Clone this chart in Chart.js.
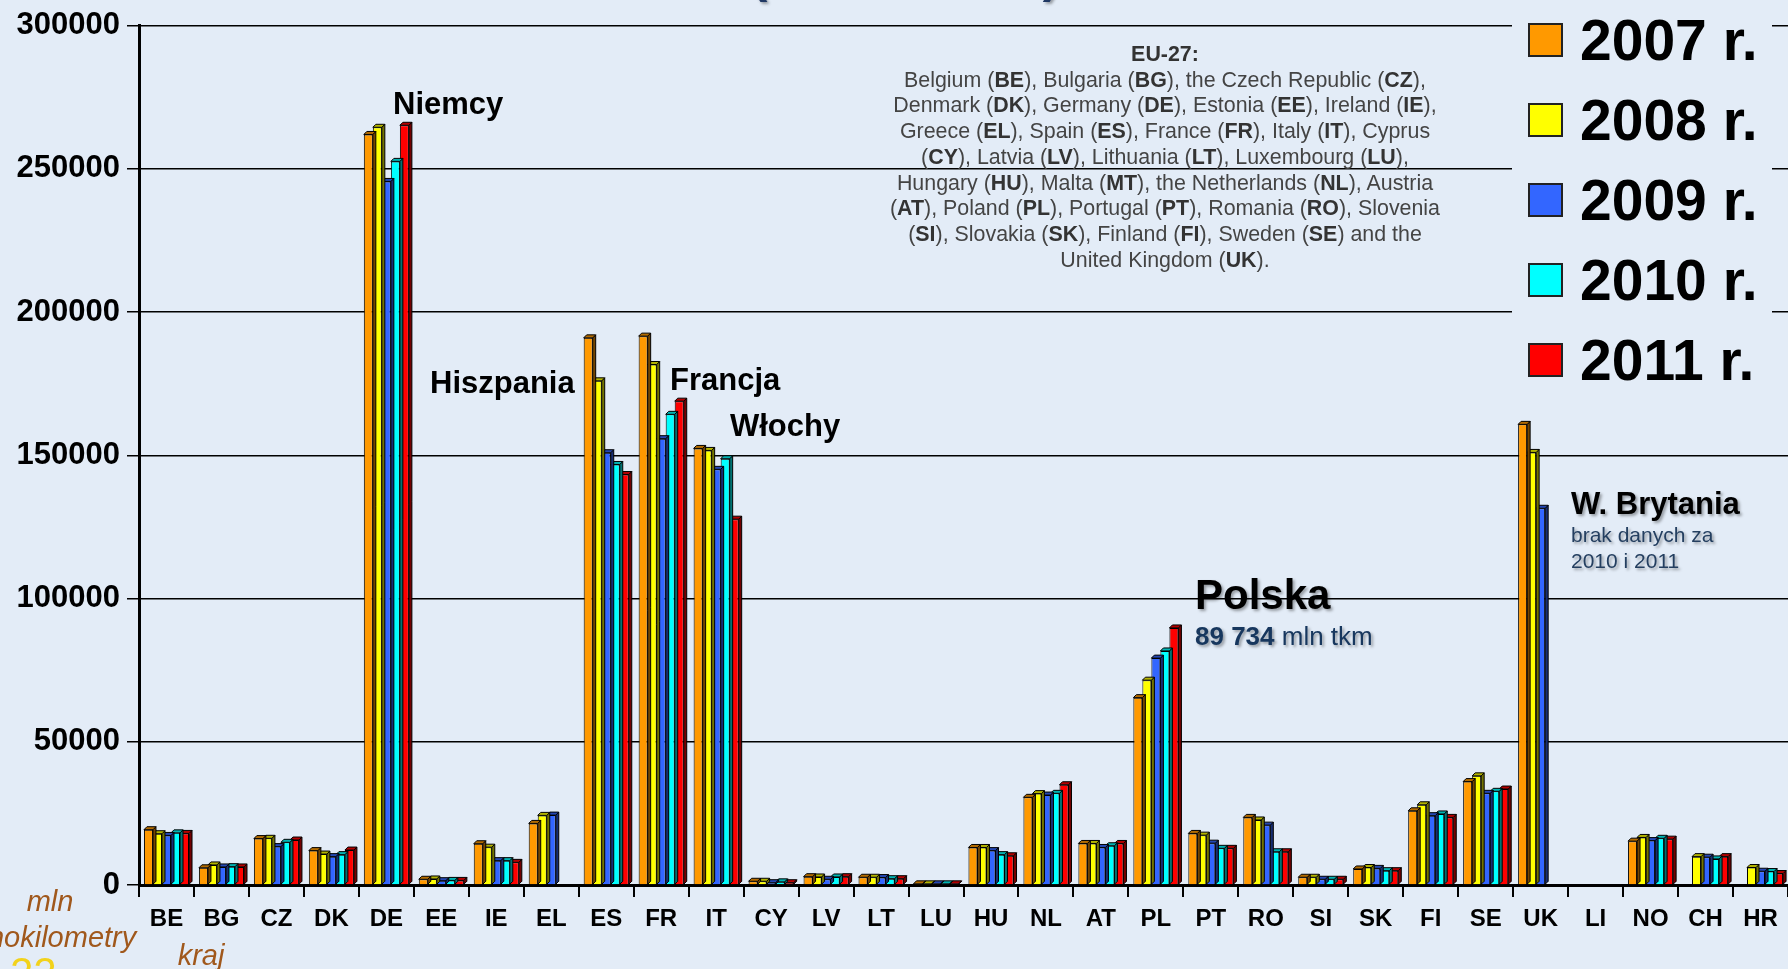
<!DOCTYPE html>
<html>
<head>
<meta charset="utf-8">
<script src="https://cdn.jsdelivr.net/npm/chart.js@4.4.0/dist/chart.umd.min.js"></script>
<style>
  body { margin: 0; background: #E3ECF7; overflow: hidden; font-family: "Liberation Sans", Arial, sans-serif; }
  #wrap { position: relative; width: 1788px; height: 969px; overflow: hidden; }
  #chart { position: absolute; left: 0; top: 0; }
  .note { position: absolute; white-space: nowrap; }
  .big { font-weight: bold; font-size: 31px; line-height: 36px; color: #000; }
  .shadow { text-shadow: 2px 2px 3px rgba(0, 0, 0, 0.35); }
  #legend { position: absolute; left: 1512px; top: 0; width: 260px; height: 395px; background: #E3ECF7; }
  .legrow { height: 80px; display: flex; align-items: center; }
  .legbox { width: 31px; height: 30px; border: 2px solid #222; margin-left: 16px; margin-right: 17px; }
  .legtxt { font-weight: bold; font-size: 57px; color: #000; }
  #eu { position: absolute; left: 865px; top: 42px; width: 600px; text-align: center; font-size: 21.4px; line-height: 25.7px; color: #444; }
  #eu b { color: #333; }
  .axt { position: absolute; font-style: italic; font-size: 29px; color: #A0581C; text-align: center; line-height: 36px; }
</style>
</head>
<body>
<div id="wrap">
  <canvas id="chart" width="1788" height="969"></canvas>

  <div class="note shadow" style="left:605px; top:-50px; width:600px; text-align:center; font-size:50px; line-height:50px; font-weight:bold; color:#1F3864;">(2007 – 2011)</div>

  <div id="eu">
    <b>EU-27:</b><br>
    Belgium (<b>BE</b>), Bulgaria (<b>BG</b>), the Czech Republic (<b>CZ</b>),<br>
    Denmark (<b>DK</b>), Germany (<b>DE</b>), Estonia (<b>EE</b>), Ireland (<b>IE</b>),<br>
    Greece (<b>EL</b>), Spain (<b>ES</b>), France (<b>FR</b>), Italy (<b>IT</b>), Cyprus<br>
    (<b>CY</b>), Latvia (<b>LV</b>), Lithuania (<b>LT</b>), Luxembourg (<b>LU</b>),<br>
    Hungary (<b>HU</b>), Malta (<b>MT</b>), the Netherlands (<b>NL</b>), Austria<br>
    (<b>AT</b>), Poland (<b>PL</b>), Portugal (<b>PT</b>), Romania (<b>RO</b>), Slovenia<br>
    (<b>SI</b>), Slovakia (<b>SK</b>), Finland (<b>FI</b>), Sweden (<b>SE</b>) and the<br>
    United Kingdom (<b>UK</b>).
  </div>

  <div class="note big" style="left:393px; top:86px;">Niemcy</div>
  <div class="note big" style="left:430px; top:365px;">Hiszpania</div>
  <div class="note big" style="left:670px; top:362px;">Francja</div>
  <div class="note big" style="left:730px; top:408px;">Włochy</div>

  <div class="note shadow" style="left:1195px; top:571px; font-size:42px; line-height:48px; font-weight:bold; color:#000;">Polska</div>
  <div class="note shadow" style="left:1195px; top:621px; font-size:26px; line-height:30px; color:#17375E;"><b>89 734</b> mln tkm</div>

  <div class="note big shadow" style="left:1571px; top:486px;">W. Brytania</div>
  <div class="note shadow" style="left:1571px; top:522px; font-size:21px; line-height:26px; color:#243F60;">brak danych za<br>2010 i 2011</div>

  <div class="axt" style="left:-50px; top:883px; width:200px;">mln<br>tonokilometry</div>
  <div class="axt" style="left:151px; top:937px; width:100px;">kraj</div>
  <div class="note" style="left:10px; top:952px; font-size:42px; line-height:42px; color:#F2D21B;">22</div>

  <div id="legend"></div>
</div>

<script>
const countries = ['BE', 'BG', 'CZ', 'DK', 'DE', 'EE', 'IE', 'EL', 'ES', 'FR', 'IT', 'CY', 'LV', 'LT', 'LU',
  'HU', 'NL', 'AT', 'PL', 'PT', 'RO', 'SI', 'SK', 'FI', 'SE', 'UK', 'LI', 'NO', 'CH', 'HR'];

// mln tkm
const y2007 = [19300, 6000, 16200, 12000, 262000, 2000, 14400, 21500, 191000, 191600, 152400, 1300, 2900, 2700, 400,
  13100, 30600, 14500, 65400, 18000, 23600, 2700, 5600, 25900, 36100, 160800, null, 15300, null, null];
const y2008 = [17900, 7000, 16300, 10800, 264500, 2100, 13200, 24300, 176000, 181700, 151700, 1300, 2800, 2700, 400,
  13100, 31900, 14500, 71500, 17400, 22700, 2700, 6100, 28000, 38100, 151000, null, 16600, 9900, 6100];
const y2009 = [17300, 6300, 13400, 9900, 245600, 1500, 8500, 24400, 150900, 155800, 145100, 800, 2000, 2600, 400,
  12000, 31400, 13100, 79200, 14600, 20900, 2000, 5800, 24200, 32000, 131500, null, 15500, 9700, 4800];
const y2010 = [18200, 6400, 14900, 10600, 252600, 1600, 8500, null, 146800, 164300, 148800, 1100, 2800, 2200, 400,
  10600, 32000, 13700, 81700, 12800, 11600, 2000, 5000, 24800, 32700, null, null, 16300, 9100, 4700];
const y2011 = [18000, 6300, 15700, 12200, 265200, 1600, 7900, null, 143300, 168900, 127700, 800, 2900, 2200, 400,
  10200, 35000, 14500, 89734, 12800, 11600, 2000, 5000, 23600, 33500, null, null, 16000, 9900, 4000];

const seriesLabels = ['2007 r.', '2008 r.', '2009 r.', '2010 r.', '2011 r.'];
const seriesColors = ['#FF9900', '#FFFF00', '#3366FF', '#00FFFF', '#FF0000'];
const seriesData = [y2007, y2008, y2009, y2010, y2011];

Chart.defaults.font.family = '"Liberation Sans", Arial, sans-serif';

function shade(hex, f) {
  const n = parseInt(hex.slice(1), 16);
  const r = Math.round(((n >> 16) & 255) * f);
  const g = Math.round(((n >> 8) & 255) * f);
  const b = Math.round((n & 255) * f);
  return 'rgb(' + r + ',' + g + ',' + b + ')';
}

// small 3D cap + side face like the old office chart
const depth = 3;
const bar3d = {
  id: 'bar3d',
  afterDatasetDraw(chart, args) {
    const ctx = chart.ctx;
    const ds = chart.data.datasets[args.index];
    ctx.save();
    ctx.lineWidth = 1;
    ctx.strokeStyle = '#000';
    args.meta.data.forEach((bar, i) => {
      if (ds.data[i] === null) return;
      const p = bar.getProps(['x', 'y', 'base', 'width'], true);
      const l = p.x - p.width / 2;
      const r = p.x + p.width / 2;
      ctx.fillStyle = shade(ds.backgroundColor, 0.45);
      ctx.beginPath();
      ctx.moveTo(r, p.y);
      ctx.lineTo(r + depth, p.y - depth);
      ctx.lineTo(r + depth, p.base - depth);
      ctx.lineTo(r, p.base);
      ctx.closePath();
      ctx.fill();
      ctx.stroke();
      ctx.fillStyle = shade(ds.backgroundColor, 0.7);
      ctx.beginPath();
      ctx.moveTo(l, p.y);
      ctx.lineTo(l + depth, p.y - depth);
      ctx.lineTo(r + depth, p.y - depth);
      ctx.lineTo(r, p.y);
      ctx.closePath();
      ctx.fill();
      ctx.stroke();
    });
    ctx.restore();
  }
};

const ctx = document.getElementById('chart').getContext('2d');
const myChart = new Chart(ctx, {
  type: 'bar',
  data: {
    labels: countries,
    datasets: seriesData.map((d, i) => ({
      label: seriesLabels[i],
      data: d,
      backgroundColor: seriesColors[i],
      borderColor: '#000',
      borderWidth: 1,
      categoryPercentage: 0.82,
      barPercentage: 1.0
    }))
  },
  options: {
    responsive: false,
    animation: false,
    layout: { padding: { top: 25, left: 0, right: 0, bottom: 0 } },
    plugins: {
      legend: { display: false },
      tooltip: { enabled: false }
    },
    scales: {
      x: {
        afterFit: (scale) => { scale.height = 84; },
        border: { display: true, color: '#000', width: 3 },
        grid: { display: true, drawOnChartArea: false, drawTicks: true, tickLength: 12, color: '#000', lineWidth: 2, offset: true },
        ticks: { color: '#000', font: { size: 24, weight: 'bold' }, padding: 8, maxRotation: 0, autoSkip: false }
      },
      y: {
        min: 0,
        max: 300000,
        afterFit: (scale) => { scale.width = 139; },
        border: { display: true, color: '#000', width: 3 },
        grid: { color: '#000', lineWidth: 1.5, tickLength: 12 },
        ticks: {
          stepSize: 50000,
          color: '#000',
          font: { size: 31, weight: 'bold' },
          padding: 7,
          callback: (value) => String(value)
        }
      }
    }
  },
  plugins: [bar3d]
});

// legend drawn as html so it can sit over the grid like in the original slide
const legend = document.getElementById('legend');
myChart.data.datasets.forEach((ds) => {
  const row = document.createElement('div');
  row.className = 'legrow';
  row.innerHTML = '<div class="legbox" style="background:' + ds.backgroundColor + '"></div><div class="legtxt">' + ds.label + '</div>';
  legend.appendChild(row);
});
</script>
</body>
</html>
